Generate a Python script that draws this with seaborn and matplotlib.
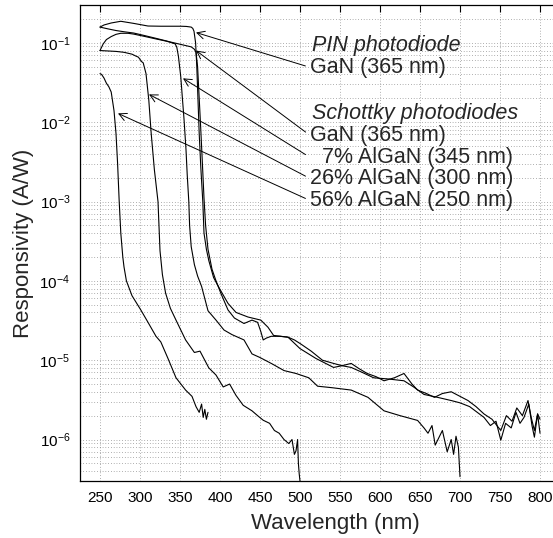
import numpy as np
import pandas as pd
import matplotlib
matplotlib.use("Agg")
import matplotlib.pyplot as plt
import seaborn as sns
from matplotlib.ticker import LogLocator, NullFormatter

# responsivity spectra: wavelength (nm) / responsivity (A/W)
pin_wl = [250, 255, 264, 276, 292, 310, 326, 340, 351, 358, 364, 366, 367.5, 369.5, 371, 372.5,
          374, 376, 378.5, 380, 383, 386, 392, 400, 410, 420, 435, 451, 460, 467, 476, 485,
          493, 501, 514, 528, 542, 553, 564, 578, 592, 610, 630, 642, 655, 672, 689, 700,
          712, 730, 738, 745, 751, 757, 764, 770, 775, 780, 786, 790, 793, 797, 800]
pin_r = [0.158, 0.168, 0.178, 0.187, 0.176, 0.163, 0.162, 0.162, 0.162, 0.161, 0.158, 0.152, 0.140,
         0.100, 0.050, 0.019, 0.0072, 0.0027, 0.0010, 0.0004, 0.00025, 0.00018, 0.00011, 7.8e-5,
         5.2e-5, 4.0e-5, 3.5e-5, 3.2e-5, 2.6e-5, 2.05e-5, 2.0e-5, 1.95e-5, 1.8e-5, 1.6e-5,
         1.3e-5, 1.0e-5, 9.1e-6, 8.5e-6, 8.1e-6, 7.0e-6, 6.0e-6, 5.8e-6, 5.5e-6, 4.6e-6, 3.7e-6,
         3.4e-6, 3.1e-6, 2.9e-6, 2.6e-6, 1.9e-6, 1.5e-6, 1.7e-6, 9.8e-7, 1.6e-6, 1.4e-6, 2.2e-6,
         1.6e-6, 1.9e-6, 2.8e-6, 1.5e-6, 1.07e-6, 2.1e-6, 1.2e-6]

gan_wl = [250, 260, 270, 280, 292, 305, 320, 339, 352, 364, 368, 370, 372, 374, 376, 378, 380, 382,
          385, 390, 395, 401, 410, 418, 430, 440, 447, 451, 454, 458, 464, 475, 485, 500, 520,
          542, 552, 564, 574, 584, 595, 605, 618, 630, 640, 647, 658, 668, 678, 689, 700, 710,
          720, 730, 740, 751, 758, 765, 771, 778, 785, 789, 793, 797, 800]
gan_r = [0.158, 0.150, 0.143, 0.138, 0.133, 0.124, 0.114, 0.102, 0.095, 0.089, 0.083, 0.076, 0.050,
         0.020, 0.008, 0.003, 0.0011, 0.0005, 0.00025, 0.00014, 0.0001, 7.0e-5, 4.3e-5, 3.4e-5,
         2.9e-5, 3.2e-5, 3.0e-5, 2.3e-5, 1.8e-5, 1.9e-5, 2.0e-5, 2.0e-5, 1.95e-5, 1.4e-5, 1.05e-5,
         8.1e-6, 8.5e-6, 9.1e-6, 7.8e-6, 6.8e-6, 6.2e-6, 5.5e-6, 6.0e-6, 6.8e-6, 5.0e-6, 4.2e-6,
         3.8e-6, 3.4e-6, 3.8e-6, 4.0e-6, 3.5e-6, 3.1e-6, 2.6e-6, 2.1e-6, 1.8e-6, 1.3e-6, 2.0e-6,
         1.7e-6, 2.5e-6, 2.0e-6, 3.1e-6, 1.9e-6, 1.3e-6, 2.1e-6, 1.8e-6]

al07_wl = [250, 254, 258, 264, 270, 276, 285, 292, 305, 320, 333, 340, 344, 346, 348, 351, 353, 355,
           357.5, 359, 361, 362, 364, 368, 372, 377, 385, 395, 405, 415, 430, 440, 450, 465, 480,
           495, 511, 522, 540, 564, 585, 605, 625, 647, 655, 660, 665, 669, 672, 678, 684, 689,
           692, 695, 698, 700]
al07_r = [0.080, 0.097, 0.110, 0.120, 0.128, 0.132, 0.132, 0.129, 0.121, 0.112, 0.105, 0.100, 0.097,
          0.088, 0.068, 0.037, 0.020, 0.011, 0.0045, 0.0022, 0.0010, 0.0005, 0.00027, 0.00016,
          0.000115, 8.5e-5, 4.2e-5, 3.2e-5, 2.4e-5, 2.1e-5, 1.8e-5, 1.2e-5, 1.08e-5, 9.0e-6,
          7.4e-6, 6.8e-6, 6.0e-6, 4.7e-6, 4.5e-6, 4.2e-6, 3.4e-6, 2.3e-6, 2.0e-6, 1.74e-6, 1.4e-6,
          1.2e-6, 1.5e-6, 8.5e-7, 9.8e-7, 1.3e-6, 7.0e-7, 1.0e-6, 6.5e-7, 1.1e-6, 8.0e-7, 3.4e-7]

al26_wl = [250, 260, 270, 280, 290, 295, 298, 302, 304, 307.5, 311, 314, 318, 322.5, 325, 328, 332,
           338, 345, 357, 368, 375, 386, 395, 404, 412, 420, 429, 440, 447, 454, 462, 468, 474,
           480, 486, 490, 493, 495, 497, 498, 499, 500]
al26_r = [0.080, 0.079, 0.078, 0.076, 0.072, 0.068, 0.066, 0.058, 0.056, 0.041, 0.019, 0.0072, 0.0025,
          0.0010, 0.00024, 0.00012, 7.0e-5, 4.5e-5, 3.2e-5, 1.8e-5, 1.25e-5, 1.3e-5, 8.0e-6,
          6.5e-6, 4.6e-6, 5.0e-6, 3.6e-6, 2.7e-6, 2.3e-6, 2.0e-6, 1.75e-6, 1.6e-6, 1.3e-6, 1.2e-6,
          1.0e-6, 8.9e-7, 1.0e-6, 6.5e-7, 7.2e-7, 1.0e-6, 5.0e-7, 3.7e-7, 3.0e-7]

al56_wl = [250, 252, 255, 258, 261, 264, 267.5, 270, 272, 274, 276, 278.5, 280, 283, 290, 301, 310,
           320, 326, 335, 345, 357, 365, 370, 374, 377, 379, 381, 383, 385]
al56_r = [0.041, 0.040, 0.036, 0.031, 0.028, 0.024, 0.014, 0.0072, 0.003, 0.001, 0.0004, 0.0002,
          0.00015, 1.0e-4, 6.5e-5, 4.3e-5, 3.0e-5, 2.0e-5, 1.7e-5, 1.05e-5, 6.0e-6, 4.2e-6,
          3.5e-6, 2.6e-6, 2.2e-6, 2.8e-6, 1.9e-6, 2.4e-6, 1.8e-6, 2.2e-6]

curves = {
    "PIN GaN": (pin_wl, pin_r),
    "Schottky GaN": (gan_wl, gan_r),
    "7% AlGaN": (al07_wl, al07_r),
    "26% AlGaN": (al26_wl, al26_r),
    "56% AlGaN": (al56_wl, al56_r),
}
df = pd.concat(
    [pd.DataFrame({"wl": w, "resp": r, "device": name}) for name, (w, r) in curves.items()],
    ignore_index=True,
)

# labels and the points the arrows land on
labels = ["GaN (365 nm)", "GaN (365 nm)", "  7% AlGaN (345 nm)", "26% AlGaN (300 nm)", "56% AlGaN (250 nm)"]
label_r = [0.0491, 0.00682, 0.00360, 0.00195, 0.00103]
tip_wl = [370, 370, 353.75, 311.25, 272.5]
tip_r = [0.135, 0.080, 0.0357, 0.0224, 0.0129]
x_ticks = list(range(250, 801, 50))
y_ticks = [1e-6, 1e-5, 1e-4, 1e-3, 1e-2, 1e-1]

sns.set_style("white")
plt.rcParams["font.family"] = ["Liberation Sans", "DejaVu Sans"]
plt.rcParams["mathtext.fontset"] = "custom"
plt.rcParams["mathtext.rm"] = "Liberation Sans"
plt.rcParams["mathtext.it"] = "Liberation Sans:italic"

fig = plt.figure(figsize=(5.53, 5.38), dpi=100)
ax = fig.add_axes([80 / 553, 57 / 538, 510 / 553, 476 / 538])

sns.lineplot(data=df, x="wl", y="resp", units="device", estimator=None, sort=False,
             color="black", lw=0.8, ax=ax)

ax.set_yscale("log")
ax.set_xlim(225, 862.5)
ax.set_ylim(3e-7, 3e-1)
ax.set_xticks(x_ticks)
ax.set_yticks(y_ticks)
ax.yaxis.set_minor_locator(LogLocator(base=10, subs=np.arange(2, 10), numticks=12))
ax.yaxis.set_minor_formatter(NullFormatter())

grid_kw = dict(color="#666666", lw=0.5, linestyle=(0, (1, 3)))
ax.grid(True, which="major", axis="x", **grid_kw)
ax.grid(True, which="both", axis="y", **grid_kw)

for s in ["left", "bottom", "top"]:
    ax.spines[s].set_color("black")
    ax.spines[s].set_linewidth(0.9)
ax.spines["right"].set_visible(False)
ax.tick_params(which="both", direction="in", top=True, right=False, colors="black", labelsize=11)
ax.tick_params(which="major", length=5, width=0.8, pad=7)
ax.tick_params(which="minor", length=3, width=0.6)

ax.set_xlabel("Wavelength (nm)", fontsize=16, labelpad=6)
ax.set_ylabel("Responsivity (A/W)", fontsize=16, labelpad=4)

ax.text(515, 0.093, "PIN photodiode", fontsize=15.5, style="italic", ha="left", va="center")
ax.text(515, 0.0129, "Schottky photodiodes", fontsize=15.5, style="italic", ha="left", va="center")
for lab, ly, tx, ty in zip(labels, label_r, tip_wl, tip_r):
    ax.annotate(lab, xy=(tx, ty), xytext=(512.5, ly), textcoords="data",
                fontsize=15.5, ha="left", va="center",
                arrowprops=dict(arrowstyle="->,head_length=0.35,head_width=0.18", color="black",
                                lw=0.7, shrinkA=1, shrinkB=0, relpos=(0, 0.5)))

fig.savefig("out.png", dpi=100)
